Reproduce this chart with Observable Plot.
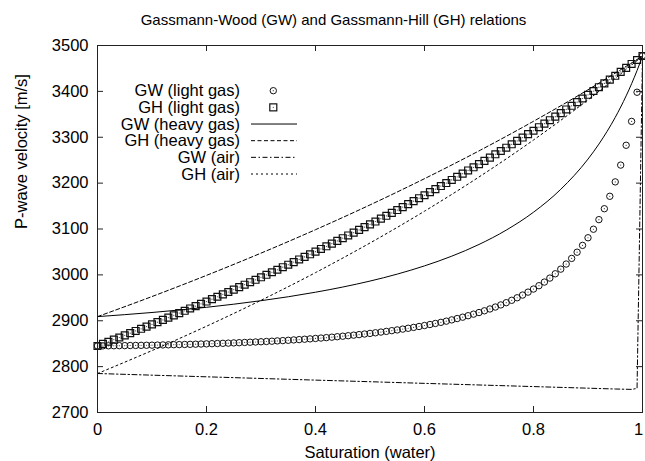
<!DOCTYPE html>
<html><head><meta charset="utf-8">
<script src="https://cdn.jsdelivr.net/npm/d3@7"></script>
<script src="https://cdn.jsdelivr.net/npm/@observablehq/plot@0.6"></script>
<style>
html,body{margin:0;padding:0;background:#fff;}
#chart{position:relative;width:645px;height:461px;overflow:hidden;}
#legend{position:absolute;left:0;top:0;pointer-events:none;}
</style></head><body><div id="chart"></div>
<script>
// ---- data ----
const titleText = "Gassmann-Wood (GW) and Gassmann-Hill (GH) relations";
const xLabelText = "Saturation (water)";
const yLabelText = "P-wave velocity [m/s]";
const xTicks = [0, 0.2, 0.4, 0.6, 0.8, 1];
const xTickLabels = ["0", "0.2", "0.4", "0.6", "0.8", "1"];
const yTicks = [2700, 2800, 2900, 3000, 3100, 3200, 3300, 3400, 3500];
const yTickLabels = ["2700", "2800", "2900", "3000", "3100", "3200", "3300", "3400", "3500"];

// marker series (water saturation grid)
const sat = [0,0.01,0.02,0.03,0.04,0.05,0.06,0.07,0.08,0.09,0.1,0.11,0.12,0.13,0.14,0.15,0.16,0.17,0.18,0.19,
 0.2,0.21,0.22,0.23,0.24,0.25,0.26,0.27,0.28,0.29,0.3,0.31,0.32,0.33,0.34,0.35,0.36,0.37,0.38,0.39,
 0.4,0.41,0.42,0.43,0.44,0.45,0.46,0.47,0.48,0.49,0.5,0.51,0.52,0.53,0.54,0.55,0.56,0.57,0.58,0.59,
 0.6,0.61,0.62,0.63,0.64,0.65,0.66,0.67,0.68,0.69,0.7,0.71,0.72,0.73,0.74,0.75,0.76,0.77,0.78,0.79,
 0.8,0.81,0.82,0.83,0.84,0.85,0.86,0.87,0.88,0.89,0.9,0.91,0.92,0.93,0.94,0.95,0.96,0.97,0.98,0.99,1];
const gwLight = [2845.2,2845.3,2845.4,2845.5,2845.7,2845.8,2846.0,2846.2,2846.4,2846.6,
 2846.8,2847.0,2847.3,2847.5,2847.8,2848.0,2848.3,2848.6,2848.9,2849.3,
 2849.6,2850.0,2850.4,2850.8,2851.2,2851.7,2852.2,2852.7,2853.2,2853.7,
 2854.2,2854.8,2855.4,2856.1,2856.7,2857.4,2858.2,2858.9,2859.7,2860.5,
 2861.4,2862.3,2863.2,2864.2,2865.2,2866.3,2867.4,2868.6,2869.8,2871.1,
 2872.4,2873.8,2875.3,2876.8,2878.4,2880.0,2881.8,2883.6,2885.5,2887.5,
 2889.6,2891.8,2894.1,2896.5,2899.1,2901.9,2904.8,2907.8,2911.0,2914.4,
 2917.9,2921.7,2925.7,2929.9,2934.5,2939.4,2944.6,2950.1,2956.0,2962.4,
 2969.1,2976.4,2984.3,2993.0,3002.4,3012.5,3023.6,3035.9,3049.4,3064.3,
 3080.9,3099.5,3120.4,3144.2,3171.3,3202.7,3239.3,3282.5,3334.6,3398.1,3477.5];
const ghLight = [2845.0,2849.6,2854.2,2858.9,2863.5,2868.2,2873.0,2877.8,2882.5,2887.3,
 2892.1,2897.0,2901.9,2906.9,2911.8,2916.7,2921.7,2926.8,2931.8,2936.9,
 2941.9,2947.1,2952.3,2957.5,2962.7,2967.9,2973.3,2978.6,2984.0,2989.3,
 2994.7,3000.2,3005.7,3011.2,3016.7,3022.2,3027.9,3033.6,3039.2,3044.9,
 3050.6,3056.5,3062.3,3068.2,3074.0,3079.9,3085.9,3092.0,3098.0,3104.1,
 3110.1,3116.3,3122.6,3128.8,3135.1,3141.3,3147.8,3154.2,3160.7,3167.1,
 3173.6,3180.3,3186.9,3193.6,3200.2,3206.9,3213.8,3220.7,3227.6,3234.5,
 3241.4,3248.6,3255.7,3262.9,3270.0,3277.2,3284.6,3292.0,3299.4,3306.8,
 3314.2,3321.9,3329.6,3337.2,3344.9,3352.6,3360.6,3368.6,3376.5,3384.5,
 3392.5,3400.8,3409.1,3417.4,3425.7,3434.0,3442.6,3451.2,3459.8,3468.4,3477.0];

// line series
const satGWHeavy = [0,0.05,0.1,0.15,0.2,0.25,0.3,0.35,0.4,0.45,0.5,0.55,0.6,0.65,0.7,0.75,0.8,0.85,0.9,0.92,0.95,0.96,0.97,0.98,0.99,1];
const gwHeavy = [2909.0,2913.3,2918.0,2923.4,2929.3,2936.1,2943.7,2952.3,2962.2,2973.5,2986.5,3001.7,3019.6,3040.8,3066.3,3097.6,3136.6,3186.5,3252.4,3285.1,3343.4,3365.9,3390.2,3416.6,3445.4,3476.9];
const satGH = [0,0.1,0.2,0.3,0.4,0.5,0.6,0.7,0.8,0.9,1];
const ghHeavy = [2909.0,2952.8,2998.9,3047.4,3098.5,3152.5,3209.7,3270.3,3334.8,3403.5,3477.0];
const ghAir = [2785.0,2835.0,2888.1,2944.6,3004.9,3069.5,3138.8,3213.4,3294.0,3381.6,3477.0];
const satGWAir = [0,0.1,0.2,0.3,0.4,0.5,0.6,0.7,0.8,0.9,0.95,0.98,0.99,1];
const gwAir = [2785.0,2781.4,2777.8,2774.2,2770.6,2767.1,2763.5,2760.0,2756.5,2753.0,2751.2,2750.4,2752.5,3477.0];

const legendLabels = ["GW (light gas)", "GH (light gas)", "GW (heavy gas)", "GH (heavy gas)", "GW (air)", "GH (air)"];
const legendKinds = ["circle", "square", "solid", "dashed", "dashdot", "dotted"];

// ---- styles ----
const font = "'Liberation Sans', Arial, Helvetica, sans-serif";
const dashes = {solid: null, dashed: "4,2.5", dashdot: "5,2.5,1.5,2.5", dotted: "2,3"};

const pts = (xs, ys) => xs.map((s, i) => ({s, v: ys[i]}));
const dLight = pts(sat, gwLight);
const hLight = pts(sat, ghLight);
const dHeavy = pts(satGWHeavy, gwHeavy);
const hHeavy = pts(satGH, ghHeavy);
const hAir = pts(satGH, ghAir);
const dAir = pts(satGWAir, gwAir);

const W = 645, H = 461, mL = 97, mR = 3, mT = 45, mB = 49;
const fw = W - mL - mR, fh = H - mT - mB;
const xLab = d => xTickLabels[xTicks.indexOf(d)];
const xTicksInner = xTicks.slice(0, -1);
const xTicksLast = xTicks.slice(-1);

const chart = Plot.plot({
  width: W, height: H,
  marginLeft: mL, marginRight: mR, marginTop: mT, marginBottom: mB,
  style: {fontFamily: font, fontSize: "16.5px", color: "#000", background: "#fff", overflow: "visible"},
  x: {domain: [0, 1]},
  y: {domain: [2700, 3500]},
  marks: [
    Plot.axisX(xTicksInner, {tickSize: 0, tickPadding: 11, label: null, tickFormat: xLab}),
    Plot.axisX(xTicksLast, {tickSize: 0, tickPadding: 11, label: null, tickFormat: xLab, dx: -4}),
    Plot.axisY(yTicks, {tickSize: 0, tickPadding: 9, label: null, tickFormat: d => yTickLabels[yTicks.indexOf(d)]}),
    // inward ticks on all four sides
    Plot.tickX(xTicks, {x: d => d, insetTop: fh - 6, stroke: "#222"}),
    Plot.tickX(xTicks, {x: d => d, insetBottom: fh - 6, stroke: "#222"}),
    Plot.tickY(yTicks, {y: d => d, insetRight: fw - 6, stroke: "#222"}),
    Plot.tickY(yTicks, {y: d => d, insetLeft: fw - 6, stroke: "#222"}),
    // GW light gas: circles
    Plot.dot(dLight, {x: "s", y: "v", r: 3.2, stroke: "#111", strokeWidth: 1, fill: "none"}),
    Plot.dot(dLight, {x: "s", y: "v", r: 0.6, fill: "#444", stroke: null}),
    // GH light gas: squares
    Plot.dot(hLight, {x: "s", y: "v", symbol: "square", r: 3.9, stroke: "#111", strokeWidth: 1.2, fill: "none"}),
    Plot.dot(hLight, {x: "s", y: "v", r: 0.6, fill: "#444", stroke: null}),
    // lines
    Plot.line(dHeavy, {x: "s", y: "v", stroke: "#000", strokeWidth: 1, curve: "monotone-x"}),
    Plot.line(hHeavy, {x: "s", y: "v", stroke: "#000", strokeWidth: 1, strokeDasharray: dashes.dashed, curve: "monotone-x"}),
    Plot.line(dAir, {x: "s", y: "v", stroke: "#000", strokeWidth: 1, strokeDasharray: dashes.dashdot}),
    Plot.line(hAir, {x: "s", y: "v", stroke: "#000", strokeWidth: 1, strokeDasharray: dashes.dotted, curve: "monotone-x"}),
    Plot.frame({stroke: "#222", strokeWidth: 1}),
    // texts
    Plot.text([titleText], {text: d => d, frameAnchor: "top", dx: -36.5, dy: -25, fontSize: 15, lineAnchor: "middle"}),
    Plot.text([xLabelText], {text: d => d, frameAnchor: "bottom", dy: 40, lineAnchor: "middle"}),
    Plot.text([yLabelText], {text: d => d, frameAnchor: "left", dx: -76, rotate: -90, lineAnchor: "middle"})
  ]
});
const root = document.getElementById("chart");
root.append(chart);

// ---- legend (overlay) ----
const lg = d3.select(root).append("svg").attr("id", "legend")
  .attr("width", W).attr("height", H)
  .style("font-family", font).style("font-size", "16.5px");
const rowY0 = 90.7, rowStep = 16.66, textRight = 240, symX = 273.3, lineX1 = 251, lineX2 = 297;
legendLabels.forEach((lab, i) => {
  const y = rowY0 + i * rowStep;
  lg.append("text").attr("x", textRight).attr("y", y).attr("dy", "0.35em")
    .attr("text-anchor", "end").attr("fill", "#000").text(lab);
  const k = legendKinds[i];
  if (k === "circle") {
    lg.append("circle").attr("cx", symX).attr("cy", y).attr("r", 3.2).attr("fill", "none").attr("stroke", "#111");
    lg.append("circle").attr("cx", symX).attr("cy", y).attr("r", 0.6).attr("fill", "#444");
  } else if (k === "square") {
    lg.append("rect").attr("x", symX - 3.5).attr("y", y - 3.5).attr("width", 7).attr("height", 7)
      .attr("fill", "none").attr("stroke", "#111").attr("stroke-width", 1.2);
    lg.append("circle").attr("cx", symX).attr("cy", y).attr("r", 0.6).attr("fill", "#444");
  } else {
    const l = lg.append("line").attr("x1", lineX1).attr("x2", lineX2).attr("y1", y).attr("y2", y)
      .attr("stroke", "#000").attr("stroke-width", 1);
    if (dashes[k]) l.attr("stroke-dasharray", dashes[k]);
  }
});
</script></body></html>
